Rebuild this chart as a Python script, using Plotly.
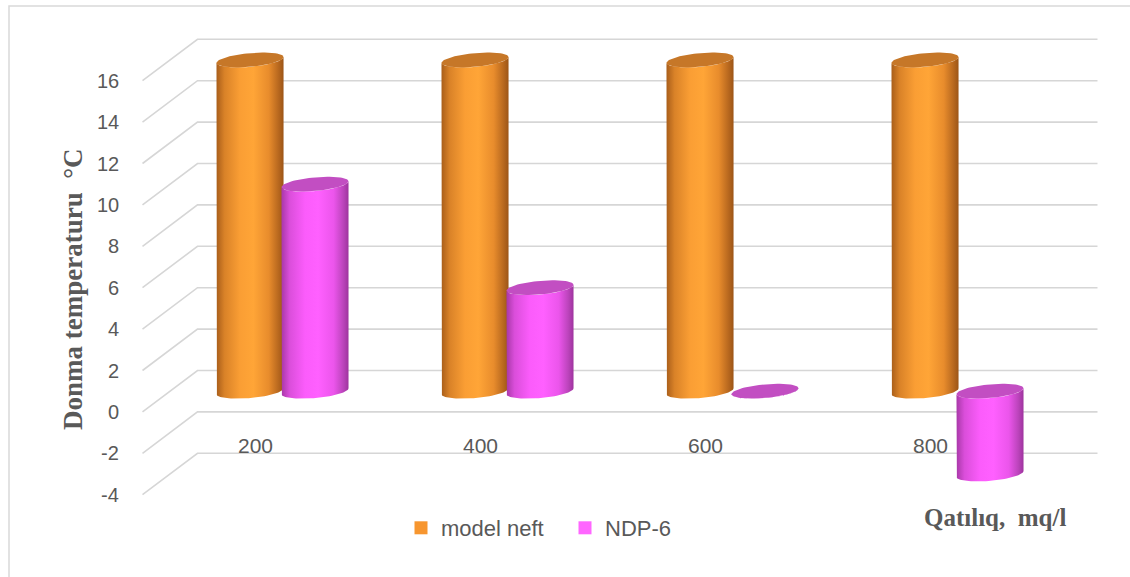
import numpy as np
import plotly.graph_objects as go

# ---- data -------------------------------------------------------------
categories = ["200", "400", "600", "800"]
model_neft = [16, 16, 16, 16]
ndp6 = [10, 5, 0, -4]
y_ticks = [16, 14, 12, 10, 8, 6, 4, 2, 0, -2, -4]

series = [
    dict(name="model neft", values=model_neft, offset=-0.1444,
         body=[[0.0, "#A95E1A"], [0.12, "#D98228"], [0.35, "#FA9E34"],
               [0.55, "#FFA537"], [0.78, "#E88C2C"], [0.92, "#B9691F"],
               [1.0, "#9C5517"]],
         cap="#C67728", swatch="#F7962F"),
    dict(name="NDP-6", values=ndp6, offset=0.1444,
         body=[[0.0, "#A838A8"], [0.12, "#DA4EDA"], [0.35, "#FB5CFB"],
               [0.55, "#FF60FF"], [0.78, "#EB55EB"], [0.92, "#BC44BC"],
               [1.0, "#9E349E"]],
         cap="#C24EC2", swatch="#FF66FF"),
]

# ---- pseudo-3D geometry (in axis units) -------------------------------
DX, DY = 0.1222, 1.0        # half depth of the floor/wall perspective
RX = 0.149                  # cylinder radius along x
RY, SHEAR = 0.33, 0.14      # ellipse half height and tilt of the caps
GRID = "#D6D6D6"
TEXT = "#595959"

n = len(categories)
x_lo, x_hi = -0.5, n - 0.5

fig = go.Figure()

# back wall grid lines and the slanted side-wall lines
for v in y_ticks:
    fig.add_trace(go.Scatter(
        x=[x_lo - DX, x_lo + DX, x_hi + DX],
        y=[v - DY, v + DY, v + DY],
        mode="lines", line=dict(color=GRID, width=1.6),
        hoverinfo="skip", showlegend=False))


def ellipse(cx, cy, t):
    return cx + RX * np.cos(t), cy + RY * np.sin(t) + SHEAR * np.cos(t)


def cylinder(cx, v, s):
    top, bottom = max(v, 0), min(v, 0)
    front = np.linspace(0, -np.pi, 40)
    tx, ty = ellipse(cx, top, front)
    bx, by = ellipse(cx, bottom, front[::-1])
    xs = np.concatenate([[cx + RX], tx, bx, [cx + RX]])
    ys = np.concatenate([[bottom + SHEAR], ty, by, [bottom + SHEAR]])
    fig.add_trace(go.Scatter(
        x=xs, y=ys, mode="lines", line=dict(width=0),
        fill="toself",
        fillgradient=dict(type="horizontal", colorscale=s["body"]),
        hoverinfo="skip", showlegend=False))
    full = np.linspace(0, 2 * np.pi, 80)
    cx_, cy_ = ellipse(cx, top, full)
    fig.add_trace(go.Scatter(
        x=cx_, y=cy_, mode="lines", line=dict(width=0),
        fill="toself", fillcolor=s["cap"],
        hoverinfo="skip", showlegend=False))


for i in range(n):
    for s in series:
        cylinder(i + s["offset"], s["values"][i], s)

# legend entries
for s in series:
    fig.add_trace(go.Scatter(
        x=[None], y=[None], mode="markers", name=s["name"],
        marker=dict(symbol="square", size=13, color=s["swatch"])))

# value-axis labels on the front edge
for v in y_ticks:
    fig.add_annotation(x=x_lo - DX - 0.095, y=v - DY, text=str(v),
                       showarrow=False, xanchor="right", yanchor="middle",
                       font=dict(family="Liberation Sans", size=20, color=TEXT))

# category labels on the front floor edge
for i, c in enumerate(categories):
    fig.add_annotation(x=i - DX, y=-1.6 - DY, text=c, showarrow=False,
                       xanchor="center", yanchor="middle",
                       font=dict(family="Liberation Sans", size=21, color=TEXT))

fig.add_annotation(xref="paper", yref="paper", x=73 / 1130, y=1 - 289 / 577,
                   text="Donma temperaturu  °C", textangle=-90,
                   showarrow=False, xanchor="center", yanchor="middle",
                   font=dict(family="Liberation Serif", size=27, color=TEXT,
                             weight="bold"))
fig.add_annotation(xref="paper", yref="paper", x=995 / 1130, y=1 - 517 / 577,
                   text="Qatılıq,  mq/l", showarrow=False,
                   xanchor="center", yanchor="middle",
                   font=dict(family="Liberation Serif", size=25, color=TEXT,
                             weight="bold"))

# chart frame
fig.add_shape(type="rect", xref="paper", yref="paper",
              x0=9 / 1130, x1=1.01, y0=-0.01, y1=1 - 6 / 577,
              line=dict(color="#D9D9D9", width=1.5))

W, H = 1130, 577
x0_px, x_scale = 282.5, 225.0
y0_px, y_scale = 391.2, 20.7
fig.update_layout(
    width=W, height=H,
    margin=dict(l=0, r=0, t=0, b=0),
    paper_bgcolor="white", plot_bgcolor="white",
    xaxis=dict(range=[-x0_px / x_scale, (W - x0_px) / x_scale],
               visible=False, fixedrange=True),
    yaxis=dict(range=[(y0_px - H) / y_scale, y0_px / y_scale],
               visible=False, fixedrange=True),
    legend=dict(orientation="h", x=401 / 1130, y=1 - 528 / 577,
                xanchor="left", yanchor="middle",
                font=dict(family="Liberation Sans", size=22, color=TEXT),
                bgcolor="rgba(0,0,0,0)", itemwidth=30, entrywidth=119),
    showlegend=True,
)

fig.write_html("out.html")
